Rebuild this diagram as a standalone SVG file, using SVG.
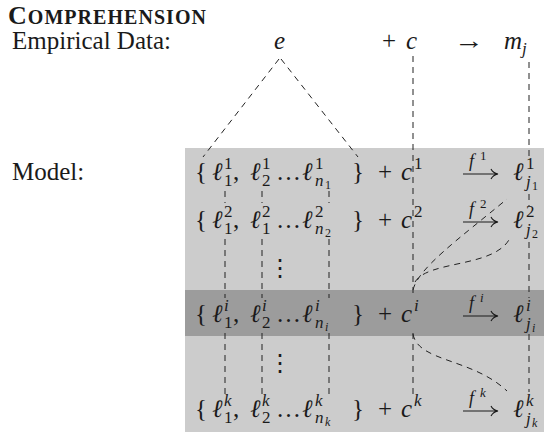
<svg xmlns="http://www.w3.org/2000/svg" width="544" height="432" viewBox="0 0 544 432">
<style>
text{font-family:"Liberation Serif","DejaVu Serif",serif;fill:#1a1a1a}
.m{font-size:25px}
.i{font-style:italic}
.s{font-size:17px}
.ss{font-size:12px}
.f{font-size:18px;font-style:italic}
.fs{font-size:13px}
.d{fill:none;stroke:#222;stroke-width:1;stroke-dasharray:6 5}
.ar{fill:none;stroke:#1a1a1a;stroke-width:1.1}
</style>
<rect id="bg" x="0" y="0" width="544" height="432" fill="#ffffff"/>
<rect id="model-area" x="185" y="148" width="359" height="284" fill="#cccccc"/>
<rect id="row-i-band" x="185" y="290" width="359" height="46" fill="#9c9c9c"/>

<g id="title">
<text x="8" y="24" font-weight="bold" textLength="198" lengthAdjust="spacing"><tspan font-size="26">C</tspan><tspan font-size="20">OMPREHENSION</tspan></text>
<text x="12" y="49" font-size="25">Empirical Data:</text>
<text x="12" y="180" font-size="25">Model:</text>
</g>

<g id="data">
<text class="m i" x="274" y="49">e</text>
<text class="m" x="382" y="49">+</text>
<text class="m i" x="406" y="49">c</text>
<text class="m" x="454" y="49" textLength="30" lengthAdjust="spacingAndGlyphs">→</text>
<text class="m i" x="504" y="49" font-size="27">m<tspan class="s" dy="5">j</tspan></text>
</g>

<g id="connectors">
<path class="d" d="M279,59 L203,157"/>
<path class="d" d="M281,59 L358,157"/>
<path class="d" d="M413,56 L413,298 M413,333 L413,394"/>
<path class="d" d="M529,62 L529,156 M529,194 L529,206 M529,242 L529,298 M529,334 L529,392"/>
<path class="d" d="M225,191 L225,203 M225,239 L225,298 M225,333 L225,394"/>
<path class="d" d="M262,191 L262,203 M262,239 L262,298 M262,333 L262,394"/>
<path class="d" d="M329,191 L329,203 M329,239 L329,298 M329,333 L329,394"/>
<path class="d" d="M413,290 C418,268 460,238 507,199"/>
<path class="d" d="M415,282 C428,260 495,268 510,238"/>
<path class="d" d="M413,334 C418,362 472,358 507,391"/>
</g>

<g id="row-1">
<text class="m" x="195" y="180">{</text>
<text class="m i" x="212" y="180">ℓ</text><text class="s" x="224" y="169">1</text><text class="s" x="224" y="186">1</text>
<text class="m" x="233" y="180">,</text>
<text class="m i" x="250" y="180">ℓ</text><text class="s" x="262" y="169">1</text><text class="s" x="262" y="186">2</text>
<text class="m" x="276" y="180">…</text>
<text class="m i" x="302" y="180">ℓ</text><text class="s" x="315" y="169">1</text><text class="s i" x="315" y="186">n</text><text class="ss" x="325" y="189">1</text>
<text class="m" x="352" y="180">}</text>
<text class="m" x="378" y="180">+</text>
<text class="m i" x="401" y="180">c</text><text class="s" x="414" y="169">1</text>
<text class="f" x="469" y="167">f</text><text class="fs" x="480" y="160">1</text>
<path class="ar" d="M463,174 L497,174 M491,169 Q493,173 498,174 Q493,175 491,179"/>
<text class="m i" x="513" y="180">ℓ</text><text class="s" x="526" y="169">1</text><text class="s i" x="526" y="187">j</text><text class="ss" x="532" y="190">1</text>
</g>

<g id="row-2">
<text class="m" x="195" y="228">{</text>
<text class="m i" x="212" y="228">ℓ</text><text class="s" x="224" y="217">2</text><text class="s" x="224" y="234">1</text>
<text class="m" x="233" y="228">,</text>
<text class="m i" x="250" y="228">ℓ</text><text class="s" x="262" y="217">2</text><text class="s" x="262" y="234">1</text>
<text class="m" x="276" y="228">…</text>
<text class="m i" x="302" y="228">ℓ</text><text class="s" x="315" y="217">2</text><text class="s i" x="315" y="234">n</text><text class="ss" x="325" y="237">2</text>
<text class="m" x="352" y="228">}</text>
<text class="m" x="378" y="228">+</text>
<text class="m i" x="401" y="228">c</text><text class="s" x="414" y="217">2</text>
<text class="f" x="469" y="215">f</text><text class="fs" x="480" y="208">2</text>
<path class="ar" d="M463,222 L497,222 M491,217 Q493,221 498,222 Q493,223 491,227"/>
<text class="m i" x="513" y="228">ℓ</text><text class="s" x="526" y="217">2</text><text class="s i" x="526" y="235">j</text><text class="ss" x="532" y="238">2</text>
</g>

<g id="vdots-1"><text x="280" y="276" font-size="24" text-anchor="middle">⋮</text></g>

<g id="row-i">
<text class="m" x="195" y="322">{</text>
<text class="m i" x="212" y="322">ℓ</text><text class="s i" x="224" y="311">i</text><text class="s" x="224" y="328">1</text>
<text class="m" x="233" y="322">,</text>
<text class="m i" x="250" y="322">ℓ</text><text class="s i" x="262" y="311">i</text><text class="s" x="262" y="328">2</text>
<text class="m" x="276" y="322">…</text>
<text class="m i" x="302" y="322">ℓ</text><text class="s i" x="315" y="311">i</text><text class="s i" x="315" y="328">n</text><text class="ss i" x="325" y="331">i</text>
<text class="m" x="352" y="322">}</text>
<text class="m" x="378" y="322">+</text>
<text class="m i" x="401" y="322">c</text><text class="s i" x="414" y="311">i</text>
<text class="f" x="469" y="309">f</text><text class="fs i" x="480" y="302">i</text>
<path class="ar" d="M463,316 L497,316 M491,311 Q493,315 498,316 Q493,317 491,321"/>
<text class="m i" x="513" y="322">ℓ</text><text class="s i" x="526" y="311">i</text><text class="s i" x="526" y="329">j</text><text class="ss i" x="532" y="332">i</text>
</g>

<g id="vdots-2"><text x="280" y="371" font-size="24" text-anchor="middle">⋮</text></g>

<g id="row-k">
<text class="m" x="195" y="417">{</text>
<text class="m i" x="212" y="417">ℓ</text><text class="s i" x="224" y="406">k</text><text class="s" x="224" y="423">1</text>
<text class="m" x="233" y="417">,</text>
<text class="m i" x="250" y="417">ℓ</text><text class="s i" x="262" y="406">k</text><text class="s" x="262" y="423">2</text>
<text class="m" x="276" y="417">…</text>
<text class="m i" x="302" y="417">ℓ</text><text class="s i" x="315" y="406">k</text><text class="s i" x="315" y="423">n</text><text class="ss i" x="325" y="426">k</text>
<text class="m" x="352" y="417">}</text>
<text class="m" x="378" y="417">+</text>
<text class="m i" x="401" y="417">c</text><text class="s i" x="414" y="406">k</text>
<text class="f" x="469" y="404">f</text><text class="fs i" x="480" y="397">k</text>
<path class="ar" d="M463,411 L497,411 M491,406 Q493,410 498,411 Q493,412 491,416"/>
<text class="m i" x="513" y="417">ℓ</text><text class="s i" x="526" y="406">k</text><text class="s i" x="526" y="424">j</text><text class="ss i" x="532" y="427">k</text>
</g>
</svg>
